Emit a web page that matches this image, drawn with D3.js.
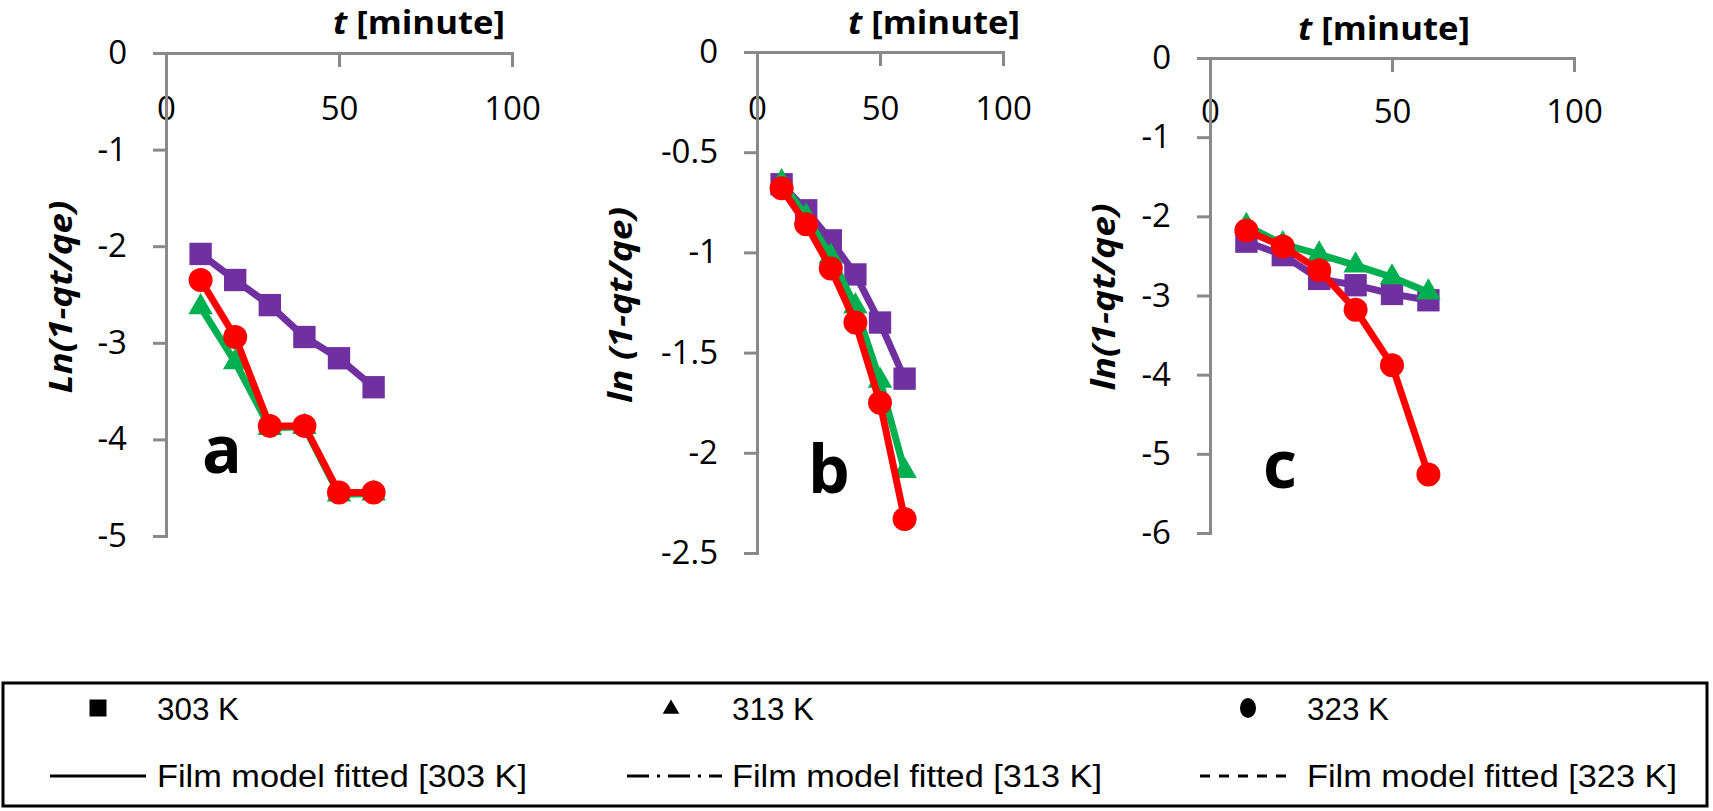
<!DOCTYPE html>
<html lang="en">
<head>
  <meta charset="UTF-8">
  <title>Film diffusion plots</title>
  <script src="https://cdnjs.cloudflare.com/ajax/libs/d3/7.8.5/d3.min.js"></script>
  <style>
    body { margin: 0; background: #fff; }
    svg { display: block; }
    .axis path, .axis line { stroke: #898989; stroke-width: 3px; }
    .axis text { font-family: "Open Sans", sans-serif; font-size: 33px; fill: #000; }
    .title { font-family: "Open Sans", sans-serif; font-weight: bold; font-size: 33px; fill: #000; }
    .letter { font-family: "Open Sans", sans-serif; font-weight: bold; font-size: 66px; fill: #000; }
    .legend text { font-family: "Liberation Sans", Arial, sans-serif; font-size: 31px; fill: #000; }
  </style>
</head>
<body>
  <svg width="1713" height="811"></svg>
  <script>
    // sampling times [minute]
    var times = [10, 20, 30, 40, 50, 60]
    var xTicks = [0, 50, 100]

    // panel a
    var a303 = [-2.08, -2.35, -2.61, -2.94, -3.16, -3.46]
    var a313 = [-2.63, -3.20, -3.88, -3.87, -4.57, -4.56]
    var a323 = [-2.35, -2.94, -3.86, -3.86, -4.55, -4.55]
    var aTicks = [0, -1, -2, -3, -4, -5]

    // panel b
    var b303 = [-0.66, -0.79, -0.94, -1.11, -1.35, -1.63]
    var b313 = [-0.65, -0.82, -1.02, -1.27, -1.64, -2.09]
    var b323 = [-0.68, -0.86, -1.08, -1.35, -1.75, -2.33]
    var bTicks = [0, -0.5, -1, -1.5, -2, -2.5]

    // panel c
    var c303 = [-2.32, -2.49, -2.79, -2.87, -2.98, -3.06]
    var c313 = [-2.12, -2.35, -2.48, -2.62, -2.77, -2.96]
    var c323 = [-2.18, -2.38, -2.68, -3.18, -3.88, -5.26]
    var cTicks = [0, -1, -2, -3, -4, -5, -6]

    var seriesNames = ['303 K', '313 K', '323 K']
    var fitNames = ['Film model fitted [303 K]', 'Film model fitted [313 K]', 'Film model fitted [323 K]']
    var colors = ['#7030a0', '#00b050', '#ff0000']

    // pixel layout of the three panels
    var panels = [
      { letter: 'a', yTitle: 'Ln(1-qt/qe)', series: [a303, a313, a323], ticks: aTicks,
        xr: [166, 512], yr: [53, 536], labTop: 97, title: [419, 34], yt: [72, 297, 193], lp: [202, 473] },
      { letter: 'b', yTitle: 'ln (1-qt/qe)', series: [b303, b313, b323], ticks: bTicks,
        xr: [757, 1003], yr: [52, 553], labTop: 97, title: [934, 34], yt: [632, 305, 196], lp: [808, 493] },
      { letter: 'c', yTitle: 'ln(1-qt/qe)', series: [c303, c313, c323], ticks: cTicks,
        xr: [1210, 1574], yr: [58, 533], labTop: 100, title: [1384, 40], yt: [1115, 297, 187], lp: [1263, 488] }
    ]

    var svg = d3.select('svg')

    panels.forEach(function (p) {
      var g = svg.append('g')
      var x = d3.scaleLinear().domain([0, 100]).range(p.xr)
      var y = d3.scaleLinear().domain([0, d3.min(p.ticks)]).range(p.yr)

      // x axis sits on top (y = 0), labels below the line
      g.append('g')
        .attr('class', 'axis')
        .attr('transform', 'translate(0,' + p.yr[0] + ')')
        .call(d3.axisBottom(x).tickValues(xTicks).tickSize(14).tickSizeOuter(0)
          .tickPadding(p.labTop - p.yr[0] - 14))

      g.append('g')
        .attr('class', 'axis')
        .attr('transform', 'translate(' + p.xr[0] + ',0)')
        .call(d3.axisLeft(y).tickValues(p.ticks).tickSize(13).tickSizeOuter(0)
          .tickPadding(26).tickFormat(function (d) { return String(d) }))

      g.selectAll('.axis .domain').attr('stroke-linecap', 'square')

      // axis titles
      var t = g.append('text').attr('class', 'title')
        .attr('x', p.title[0]).attr('y', p.title[1])
        .attr('text-anchor', 'middle')
        .attr('textLength', 172).attr('lengthAdjust', 'spacingAndGlyphs')
      t.append('tspan').attr('font-style', 'italic').text('t')
      t.append('tspan').text(' [minute]')

      g.append('text').attr('class', 'title')
        .attr('transform', 'translate(' + p.yt[0] + ',' + p.yt[1] + ') rotate(-90)')
        .attr('text-anchor', 'middle')
        .attr('font-style', 'italic')
        .attr('textLength', p.yt[2]).attr('lengthAdjust', 'spacingAndGlyphs')
        .text(p.yTitle)

      g.append('text').attr('class', 'letter')
        .attr('x', p.lp[0]).attr('y', p.lp[1])
        .text(p.letter)

      var line = d3.line()
        .x(function (d, i) { return x(times[i]) })
        .y(function (d) { return y(d) })

      var shapes = [d3.symbolSquare, d3.symbolTriangle, null]
      var sizes = [500, 260, 0]

      p.series.forEach(function (vals, k) {
        var s = g.append('g')
        s.append('path')
          .attr('d', line(vals))
          .attr('fill', 'none')
          .attr('stroke', colors[k])
          .attr('stroke-width', 7)
          .attr('stroke-linejoin', 'round')

        if (shapes[k]) {
          s.selectAll('path.m').data(vals).join('path')
            .attr('class', 'm')
            .attr('transform', function (d, i) { return 'translate(' + x(times[i]) + ',' + y(d) + ')' })
            .attr('d', d3.symbol().type(shapes[k]).size(sizes[k]))
            .attr('fill', colors[k])
        } else {
          s.selectAll('circle').data(vals).join('circle')
            .attr('cx', function (d, i) { return x(times[i]) })
            .attr('cy', function (d) { return y(d) })
            .attr('r', 12)
            .attr('fill', colors[k])
        }
      })
    })

    // legend
    var lg = svg.append('g').attr('class', 'legend')
    lg.append('rect')
      .attr('x', 3).attr('y', 683).attr('width', 1704).attr('height', 123)
      .attr('fill', 'none').attr('stroke', '#000').attr('stroke-width', 3)

    var colX = [157, 732, 1307]
    var markX = [98, 671, 1248]
    var lineX = [[50, 146], [627, 722], [1200, 1288]]
    var dashes = [null, '22,8,3,8', '10,9']
    var row1 = 708, row2 = 776

    lg.append('rect').attr('x', markX[0] - 8.5).attr('y', row1 - 8.5)
      .attr('width', 17).attr('height', 17).attr('fill', '#000')
    lg.append('path')
      .attr('transform', 'translate(' + markX[1] + ',' + (row1 + 1) + ')')
      .attr('d', d3.symbol().type(d3.symbolTriangle).size(120)).attr('fill', '#000')
    lg.append('ellipse').attr('cx', markX[2]).attr('cy', row1)
      .attr('rx', 8).attr('ry', 10).attr('fill', '#000')

    seriesNames.forEach(function (n, i) {
      lg.append('text').attr('x', colX[i]).attr('y', row1 + 12)
        .attr('textLength', 82).attr('lengthAdjust', 'spacingAndGlyphs')
        .text(n)
    })

    fitNames.forEach(function (n, i) {
      lg.append('line')
        .attr('x1', lineX[i][0]).attr('x2', lineX[i][1])
        .attr('y1', row2).attr('y2', row2)
        .attr('stroke', '#000').attr('stroke-width', 3)
        .attr('stroke-dasharray', dashes[i])
      lg.append('text').attr('x', colX[i]).attr('y', row2 + 11)
        .attr('textLength', 370).attr('lengthAdjust', 'spacingAndGlyphs')
        .text(n)
    })
  </script>
</body>
</html>
